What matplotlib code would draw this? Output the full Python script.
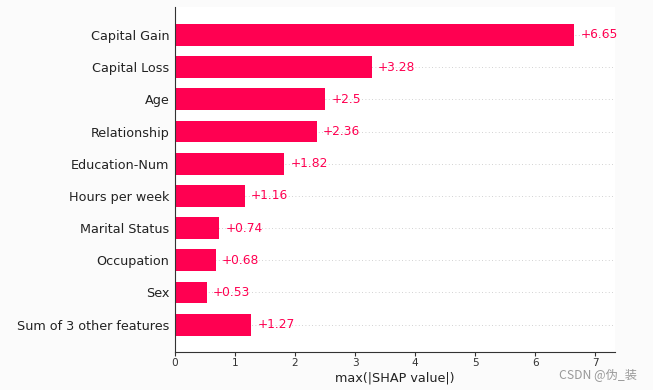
import matplotlib
matplotlib.use("Agg")
import matplotlib.pyplot as plt
import numpy as np

features = ["Capital Gain", "Capital Loss", "Age", "Relationship", "Education-Num",
            "Hours per week", "Marital Status", "Occupation", "Sex", "Sum of 3 other features"]
values = [6.65, 3.28, 2.5, 2.36, 1.82, 1.16, 0.74, 0.68, 0.53, 1.27]
value_labels = ["+6.65", "+3.28", "+2.5", "+2.36", "+1.82", "+1.16", "+0.74", "+0.68", "+0.53", "+1.27"]
xticks = [0, 1, 2, 3, 4, 5, 6, 7]

red = "#ff0051"

fig = plt.figure(figsize=(6.53, 3.90), dpi=100, facecolor="#fbfbfb")
ax = fig.add_axes([175/653, 1 - 352/390, 440/653, 345/390])
ax.set_facecolor("white")

n = len(features)
ypos = np.arange(n)[::-1]

for y in ypos:
    ax.axhline(y, color="#888888", lw=0.6, dashes=(1, 3), alpha=0.5, zorder=-1)

ax.barh(ypos, values, height=0.68, color=red, zorder=2)

for y, v, lab in zip(ypos, values, value_labels):
    ax.annotate(lab, xy=(v, y), xytext=(4.5, 0), textcoords="offset points",
                ha="left", va="center", color=red, fontsize=8.8)

ax.set_yticks(ypos)
ax.set_yticklabels(features, fontsize=9.2, color="#222222")
ax.tick_params(axis="y", length=0, pad=4)
ax.set_xticks(xticks)
ax.set_xticklabels([str(t) for t in xticks], fontsize=7.6, color="#333333")
ax.tick_params(axis="x", length=3, width=0.8, color="#333333", pad=1.5)
ax.set_xlim(0, 7.33)
ax.set_ylim(-0.85, n - 1 + 0.87)
ax.set_xlabel("max(|SHAP value|)", fontsize=9.2, color="#222222", labelpad=2)

for s in ["top", "right"]:
    ax.spines[s].set_visible(False)
for s in ["left", "bottom"]:
    ax.spines[s].set_color("#333333")
    ax.spines[s].set_linewidth(0.8)

fig.text(598/653, 1 - 376/390, "CSDN @伪_装", ha="center", va="center", fontsize=8.8,
         color="#999999", family=["Noto Sans CJK SC", "DejaVu Sans"])

fig.savefig("out.png", dpi=100, facecolor=fig.get_facecolor())
